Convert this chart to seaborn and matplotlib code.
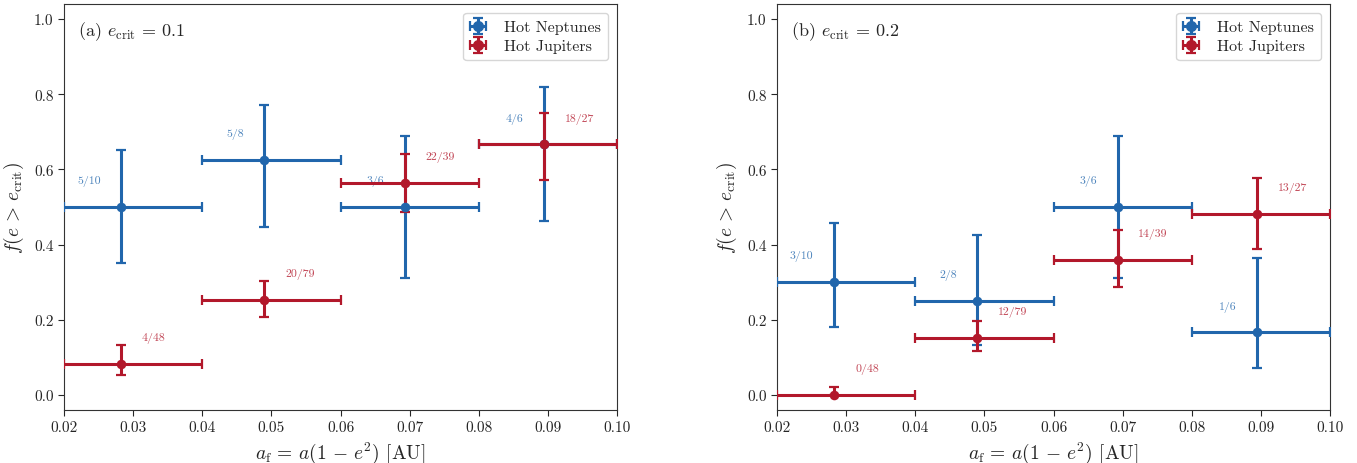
import numpy as np
import pandas as pd
import matplotlib
matplotlib.use("Agg")
import matplotlib.pyplot as plt
from matplotlib.lines import Line2D
import seaborn as sns

# Bins in a_f = a(1 - e^2) [AU]
bin_edges = [0.02, 0.04, 0.06, 0.08, 0.10]

# Counts per bin: eccentric / total
nep_k_01 = [5, 5, 3, 4]
nep_n_01 = [10, 8, 6, 6]
jup_k_01 = [4, 20, 22, 18]
jup_n_01 = [48, 79, 39, 27]

nep_k_02 = [3, 2, 3, 1]
nep_n_02 = [10, 8, 6, 6]
jup_k_02 = [0, 12, 14, 13]
jup_n_02 = [48, 79, 39, 27]

# Lower / upper bounds of the fraction uncertainties
nep_lo_01 = [0.350, 0.448, 0.312, 0.464]
nep_hi_01 = [0.651, 0.772, 0.690, 0.820]
jup_lo_01 = [0.053, 0.208, 0.486, 0.572]
jup_hi_01 = [0.132, 0.304, 0.641, 0.750]

nep_lo_02 = [0.180, 0.133, 0.312, 0.071]
nep_hi_02 = [0.458, 0.425, 0.690, 0.364]
jup_lo_02 = [0.000, 0.118, 0.288, 0.388]
jup_hi_02 = [0.021, 0.197, 0.439, 0.577]

BLUE = "#2166ac"
RED = "#b2182b"

sns.set_style("ticks")
plt.rcParams["font.family"] = ["cmr10", "DejaVu Serif"]
plt.rcParams["mathtext.fontset"] = "cm"
plt.rcParams["axes.unicode_minus"] = False
plt.rcParams["axes.formatter.use_mathtext"] = True

edges = np.array(bin_edges)
centers = np.sqrt(edges[:-1] * edges[1:])
xerr = np.vstack([centers - edges[:-1], edges[1:] - centers])


def draw_series(ax, k, n, lo, hi, color, label, side):
    k = np.asarray(k)
    n = np.asarray(n)
    frac = k / n
    yerr = np.vstack([frac - np.asarray(lo), np.asarray(hi) - frac])
    df = pd.DataFrame({"x": centers, "f": frac})
    cont = ax.errorbar(centers, frac, xerr=xerr, yerr=yerr, fmt="none",
                       ecolor=color, elinewidth=2.2, capsize=3.3,
                       capthick=1.6, zorder=3)
    sns.scatterplot(data=df, x="x", y="f", ax=ax, color=color, s=48,
                    edgecolor=color, linewidth=0, zorder=4, legend=False)
    for xc, fv, kk, nn in zip(centers, frac, k, n):
        if side == "left":
            ax.text(xc - 0.003, fv + 0.07, f"{kk}/{nn}", ha="right",
                    va="center", color=color, alpha=0.8, fontsize=8.5)
        else:
            ax.text(xc + 0.003, fv + 0.07, f"{kk}/{nn}", ha="left",
                    va="center", color=color, alpha=0.8, fontsize=8.5)
    marker = Line2D([], [], color=color, marker="o", markersize=7,
                    linestyle="none")
    return (cont, marker), label


fig = plt.figure(figsize=(13.57, 4.64), dpi=100)
axes = [fig.add_axes([0.0472, 0.1142, 0.4075, 0.875]),
        fig.add_axes([0.5726, 0.1142, 0.4075, 0.875])]

panels = [
    (r"(a) $e_{\rm crit} \,=\, 0.1$", nep_k_01, nep_n_01, nep_lo_01,
     nep_hi_01, jup_k_01, jup_n_01, jup_lo_01, jup_hi_01),
    (r"(b) $e_{\rm crit} \,=\, 0.2$", nep_k_02, nep_n_02, nep_lo_02,
     nep_hi_02, jup_k_02, jup_n_02, jup_lo_02, jup_hi_02),
]

for ax, (title, nk, nn, nlo, nhi, jk, jn, jlo, jhi) in zip(axes, panels):
    h1, l1 = draw_series(ax, nk, nn, nlo, nhi, BLUE, "Hot Neptunes", "left")
    h2, l2 = draw_series(ax, jk, jn, jlo, jhi, RED, "Hot Jupiters", "right")
    ax.set_xlim(0.02, 0.10)
    ax.set_ylim(-0.04, 1.04)
    ax.set_xticks(np.arange(0.02, 0.1001, 0.01))
    ax.set_xticklabels([f"{v:.2f}" for v in np.arange(0.02, 0.1001, 0.01)])
    ax.set_yticks([0.0, 0.2, 0.4, 0.6, 0.8, 1.0])
    ax.set_yticklabels(["0.0", "0.2", "0.4", "0.6", "0.8", "1.0"])
    ax.tick_params(labelsize=11, length=4, width=0.8)
    for sp in ax.spines.values():
        sp.set_visible(True)
        sp.set_linewidth(0.8)
        sp.set_color("#333333")
    ax.set_xlabel(r"$a_{\rm f} \,=\, a(1 \,-\, e^2)$ [AU]", fontsize=14,
                  labelpad=4)
    ax.set_ylabel(r"$f(e \,>\, e_{\rm crit})$", fontsize=14, labelpad=6)
    ax.text(0.025, 0.935, title, transform=ax.transAxes, fontsize=13,
            ha="left", va="center")
    ax.legend([h1, h2], [l1, l2], loc="upper right", fontsize=11.5,
              frameon=True, fancybox=True, handlelength=0.9,
              handletextpad=1.2, borderpad=0.45, labelspacing=0.3,
              borderaxespad=0.55)

fig.savefig("out.png", dpi=100)
